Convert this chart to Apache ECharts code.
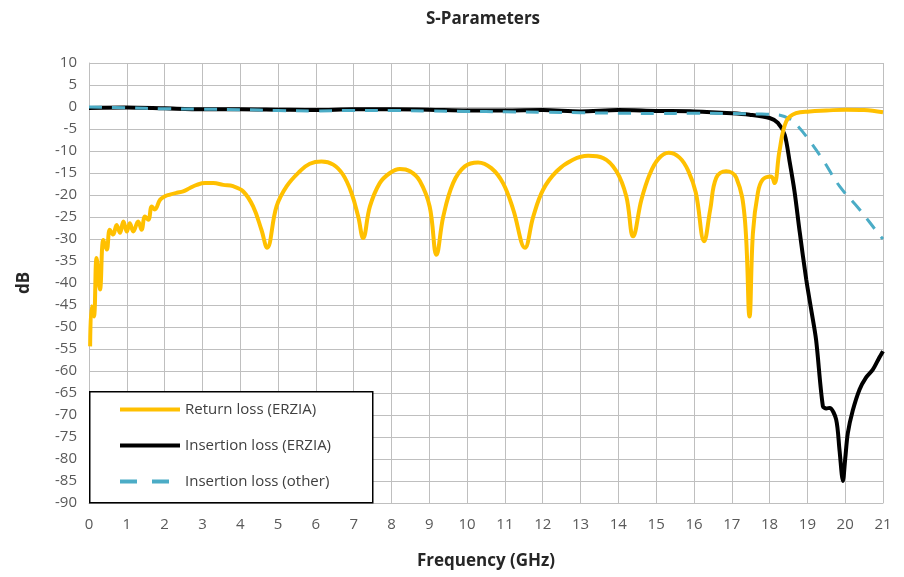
<!DOCTYPE html>
<html><head><meta charset="utf-8">
<script src="https://cdn.jsdelivr.net/npm/echarts@6/dist/echarts.min.js"></script>
<style>html,body{margin:0;padding:0;background:#fff}#c{width:904px;height:577px}</style>
</head><body><div id="c"></div>
<script>
const seriesNames = ['Return loss (ERZIA)', 'Insertion loss (ERZIA)', 'Insertion loss (other)'];
const xTicks = [0,1,2,3,4,5,6,7,8,9,10,11,12,13,14,15,16,17,18,19,20,21];
const yTicks = [10,5,0,-5,-10,-15,-20,-25,-30,-35,-40,-45,-50,-55,-60,-65,-70,-75,-80,-85,-90];

const returnLossFreq = [0.03,0.07,0.13,0.2,0.29,0.38,0.47,0.55,0.64,0.73,0.82,0.91,1.0,1.08,1.17,1.3,1.39,1.48,1.57,1.66,1.74,1.88,2.01,2.14,2.32,2.49,2.67,2.85,3.07,3.29,3.55,3.81,4.08,4.34,4.56,4.71,4.96,5.23,5.58,5.84,6.15,6.46,6.72,6.94,7.12,7.25,7.43,7.69,7.96,8.22,8.49,8.75,9.01,9.19,9.37,9.63,9.94,10.29,10.64,10.95,11.22,11.53,11.75,12.01,12.37,12.8,13.2,13.6,13.95,14.21,14.39,14.61,14.83,15.06,15.33,15.62,15.85,16.05,16.27,16.43,16.59,16.85,17.12,17.34,17.47,17.56,17.69,17.82,18.04,18.13,18.26,18.44,18.7,19.06,19.5,20.03,20.5,21];
const returnLossDb = [-54.4,-45.3,-47.6,-34.3,-41.5,-30.2,-32.4,-27.9,-29,-26.8,-28.6,-26,-28.3,-26.4,-28.3,-26,-27.9,-24.9,-25.6,-22.6,-23.3,-21.1,-20.3,-19.9,-19.5,-19.2,-18.4,-17.7,-17.3,-17.3,-17.7,-18.0,-19.2,-22.6,-27.9,-32,-22.6,-18,-14.6,-12.9,-12.4,-13.1,-15.4,-19.5,-24.9,-29.8,-22.6,-17.3,-15,-14.1,-14.6,-16.8,-22.6,-33.6,-24.9,-17.3,-13.5,-12.6,-13.9,-17.3,-23.3,-32,-24.9,-18.8,-14.6,-12,-11.1,-11.6,-14.6,-20.3,-29.4,-21.1,-15.3,-11.8,-10.4,-11.5,-14.5,-19.5,-30.5,-23.3,-16.1,-14.6,-16.1,-24.9,-47.6,-28.6,-19.5,-16.5,-15.8,-17.3,-10.1,-3.3,-1.4,-1.0,-0.8,-0.6,-0.7,-1.2];

const insErziaFreq = [0,1,2,3,4,5,6,7,8,9,10,11,12,13,14,15,16,17,17.47,18,18.22,18.4,18.53,18.66,18.8,18.97,19.1,19.23,19.41,19.5,19.59,19.76,19.85,19.94,20.0,20.07,20.2,20.38,20.55,20.73,20.9,21];
const insErziaDb = [-0.2,-0.1,-0.3,-0.5,-0.5,-0.6,-0.7,-0.5,-0.5,-0.6,-0.8,-0.8,-0.7,-1.0,-0.7,-0.9,-1.0,-1.4,-1.75,-2.5,-3.6,-6.3,-12.4,-19.2,-28.6,-39.2,-46,-52.9,-68,-68.5,-68.4,-71,-78,-85,-80,-74.1,-69,-64.2,-61.5,-59.7,-57,-55.5];

const insOtherFreq = [0,1,2,3,4,5,6,7,8,9,10,11,12,13,14,15,16,17,17.8,18.25,18.55,18.75,19.0,19.41,19.85,20.38,20.9,21];
const insOtherDb = [0,-0.2,-0.4,-0.5,-0.6,-0.8,-0.9,-0.8,-0.8,-0.9,-1.0,-1.1,-1.2,-1.3,-1.4,-1.5,-1.4,-1.5,-1.6,-1.8,-2.8,-4.4,-7.0,-12,-18,-23.3,-29,-30];

const zip = (a, b) => a.map((v, i) => [v, b[i]]);
const chart = echarts.init(document.getElementById('c'));
const FONT = '"Open Sans", "Liberation Sans", sans-serif';
const gridColor = '#BFBFBF';
chart.setOption({
  animation: false,
  textStyle: { fontFamily: FONT },
  title: { text: 'S-Parameters', left: 478, top: 6, textAlign: 'center',
    textStyle: { fontSize: 17, fontWeight: 'bold', color: '#262626', fontFamily: FONT } },
  grid: { left: 89, right: 21, top: 63, bottom: 74 },
  graphic: [{ type: 'rect', left: 89, top: 391, z: 100,
    shape: { width: 283, height: 111 },
    style: { fill: '#fff', stroke: '#000', lineWidth: 1.5 } }],
  legend: {
    orient: 'vertical', left: 113, top: 397, z: 110, itemWidth: 60, itemHeight: 14, itemGap: 21,
    lineStyle: { width: 4 },
    data: [
      { name: seriesNames[0], lineStyle: { width: 4, type: 'solid' } },
      { name: seriesNames[1], lineStyle: { width: 4, type: 'solid' } },
      { name: seriesNames[2], lineStyle: { width: 4, type: [17, 15], dashOffset: 0 } }
    ],
    selectedMode: false,
    itemStyle: { opacity: 0 },
    textStyle: { fontSize: 15, color: '#404040', fontFamily: FONT, padding: [0, 0, 0, 0] }
  },
  xAxis: {
    type: 'value', min: 0, max: 21, interval: 1,
    name: 'Frequency (GHz)', nameLocation: 'middle', nameGap: 50,
    nameTextStyle: { fontSize: 17, fontWeight: 'bold', color: '#262626' },
    axisLine: { show: true, onZero: false, lineStyle: { color: gridColor } },
    axisTick: { show: false },
    axisLabel: { fontSize: 15, color: '#595959', margin: 14, formatter: v => xTicks.includes(v) ? String(v) : '' },
    splitLine: { show: true, lineStyle: { color: gridColor, width: 1 } }
  },
  yAxis: {
    type: 'value', min: -90, max: 10, interval: 5,
    name: 'dB', nameLocation: 'middle', nameGap: 56,
    nameTextStyle: { fontSize: 17, fontWeight: 'bold', color: '#262626' },
    axisLine: { show: true, lineStyle: { color: gridColor } },
    axisTick: { show: false },
    axisLabel: { fontSize: 15, color: '#595959', margin: 12, formatter: v => yTicks.includes(v) ? String(v) : '' },
    splitLine: { show: true, lineStyle: { color: gridColor, width: 1 } }
  },
  series: [
    { name: seriesNames[0], type: 'line', data: zip(returnLossFreq, returnLossDb), symbol: 'none', z: 4,
      smooth: 0.4, color: '#FFC000', lineStyle: { width: 4, color: '#FFC000' } },
    { name: seriesNames[1], type: 'line', data: zip(insErziaFreq, insErziaDb), symbol: 'none', z: 2,
      smooth: 0.3, color: '#000', lineStyle: { width: 4, color: '#000' } },
    { name: seriesNames[2], type: 'line', data: zip(insOtherFreq, insOtherDb), symbol: 'none', z: 3,
      smooth: 0.4, color: '#4BACC6', lineStyle: { width: 3, color: '#4BACC6', type: [13, 10] } }
  ]
});
</script></body></html>
